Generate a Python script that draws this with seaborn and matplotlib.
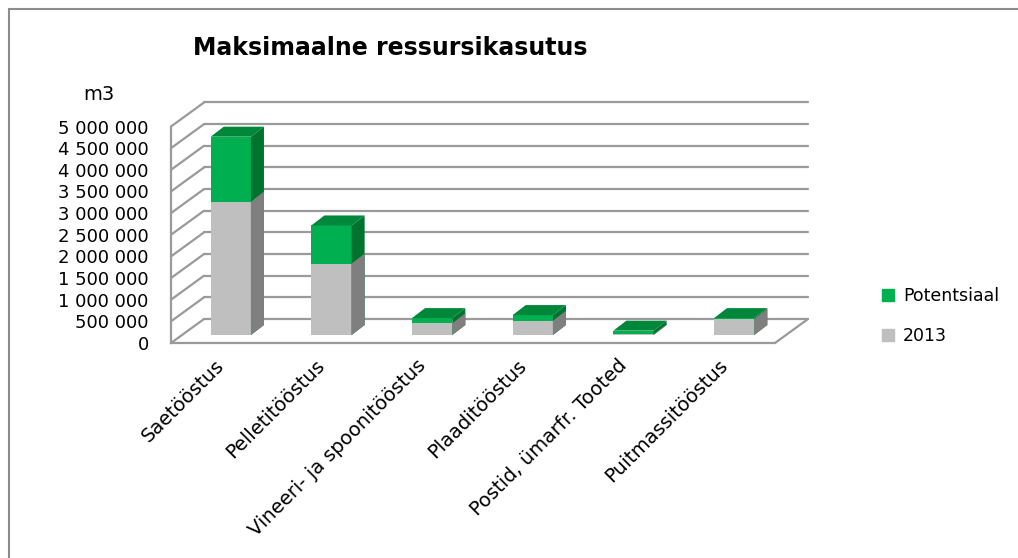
import numpy as np
import matplotlib
matplotlib.use("Agg")
import matplotlib.pyplot as plt
from matplotlib.patches import Patch, Polygon, Rectangle
from matplotlib.ticker import FuncFormatter, MultipleLocator
import seaborn as sns

categories = ["Saetööstus", "Pelletitööstus", "Vineeri- ja spoonitööstus",
              "Plaaditööstus", "Postid, ümarfr. Tooted", "Puitmassitööstus"]
v2013 = [3080000, 1650000, 270000, 330000, 20000, 370000]
potentsiaal = [1500000, 880000, 120000, 130000, 80000, 20000]
series = ["Potentsiaal", "2013"]
totals = [a + b for a, b in zip(v2013, potentsiaal)]

green, green_side, green_top = "#00b050", "#00732f", "#00873a"
grey, grey_side = "#bfbfbf", "#7f7f7f"
gridc = "#9a9a9a"

sns.set_style("white")
plt.rcParams["font.family"] = ["DejaVu Sans"]
plt.rcParams["text.color"] = "black"

W, H = 1018, 558
fig = plt.figure(figsize=(W / 100, H / 100), dpi=100)
ax = fig.add_axes([171 / W, 1 - 343 / H, 604 / W, 216.5 / H])

# stacked bars: total (green) first, 2013 (grey) drawn over it
sns.barplot(x=categories, y=totals, color=green, width=0.4, saturation=1,
            linewidth=0, zorder=3, ax=ax)
sns.barplot(x=categories, y=v2013, color=grey, width=0.4, saturation=1,
            linewidth=0, zorder=3, ax=ax)
ax.set_xlim(-0.5, 5.5)
ax.set_ylim(0, 5000000)

# pseudo-3d offsets, pixels -> data units
sx = 6 / 604
sy = 5000000 / 216.5
dep_x, dep_y = 33 * sx, 24 * sy   # floor / wall depth
off_x, off_y = 9.5 * sx, 8 * sy   # bar front face set back
bar_x, bar_y = 13 * sx, 10 * sy   # bar depth

# back wall gridlines + left wall diagonals
for v in np.arange(0, 5000001, 500000):
    ax.plot([-0.5, -0.5 + dep_x], [v, v + dep_y], color=gridc, lw=1.6,
            clip_on=False, zorder=1)
    ax.plot([-0.5 + dep_x, 5.5 + dep_x], [v + dep_y, v + dep_y], color=gridc,
            lw=1.6, clip_on=False, zorder=1)
ax.plot([5.5, 5.5 + dep_x], [0, dep_y], color=gridc, lw=1.6, clip_on=False, zorder=1)

bars = ax.patches[:12]
for p in bars:
    p.set_x(p.get_x() + off_x)
    p.set_y(off_y)
for i, p in enumerate(bars):
    x0, x1 = p.get_x(), p.get_x() + p.get_width()
    y0, y1 = p.get_y(), p.get_y() + p.get_height()
    side = green_side if i < 6 else grey_side
    ax.add_patch(Polygon([(x1, y0), (x1 + bar_x, y0 + bar_y), (x1 + bar_x, y1 + bar_y), (x1, y1)],
                         closed=True, facecolor=side, lw=0, zorder=3.5, clip_on=False))
    if i < 6:
        ax.add_patch(Polygon([(x0, y1), (x0 + bar_x, y1 + bar_y), (x1 + bar_x, y1 + bar_y), (x1, y1)],
                             closed=True, facecolor=green_top, lw=0, zorder=3.5, clip_on=False))

# axes
for s in ["top", "right"]:
    ax.spines[s].set_visible(False)
for s in ["left", "bottom"]:
    ax.spines[s].set_color(gridc)
    ax.spines[s].set_linewidth(1.6)

ax.set_xticks(range(6))
ax.set_xticklabels(categories, rotation=45, ha="right", va="center",
                   rotation_mode="anchor", fontsize=14)
ax.set_xticks(np.arange(-0.5, 6, 1), minor=True)
ax.tick_params(axis="x", which="major", length=0, pad=14, labelcolor="black")
ax.tick_params(axis="x", which="minor", length=5, width=1.5, color=gridc, direction="out")
ax.yaxis.set_major_locator(MultipleLocator(500000))
ax.yaxis.set_major_formatter(FuncFormatter(lambda v, _: f"{int(v):,}".replace(",", " ")))
ax.tick_params(axis="y", length=4, width=1.5, color=gridc, pad=12, labelsize=13,
               labelcolor="black")
ax.set_xlabel("")
ax.set_ylabel("")

fig.text(390 / W, 1 - 48 / H, "Maksimaalne ressursikasutus", ha="center", va="center",
         fontsize=17, fontweight="bold", color="black")
fig.text(99 / W, 1 - 95 / H, "m3", ha="center", va="center", fontsize=14, color="black")

handles = [Patch(color=green), Patch(color=grey)]
fig.legend(handles, series, loc="center left", bbox_to_anchor=(882 / W, 1 - 316 / H),
           frameon=False, fontsize=12.5, handlelength=0.7, handleheight=0.7,
           handletextpad=0.5, labelspacing=1.3, borderpad=0, borderaxespad=0,
           labelcolor="black")

fig.add_artist(Rectangle((9 / W, -0.1), 1.2, 1 - 9 / H + 0.1, transform=fig.transFigure,
                         fill=False, edgecolor="#8c8c8c", lw=1.5))

fig.savefig("out.png", dpi=100)
